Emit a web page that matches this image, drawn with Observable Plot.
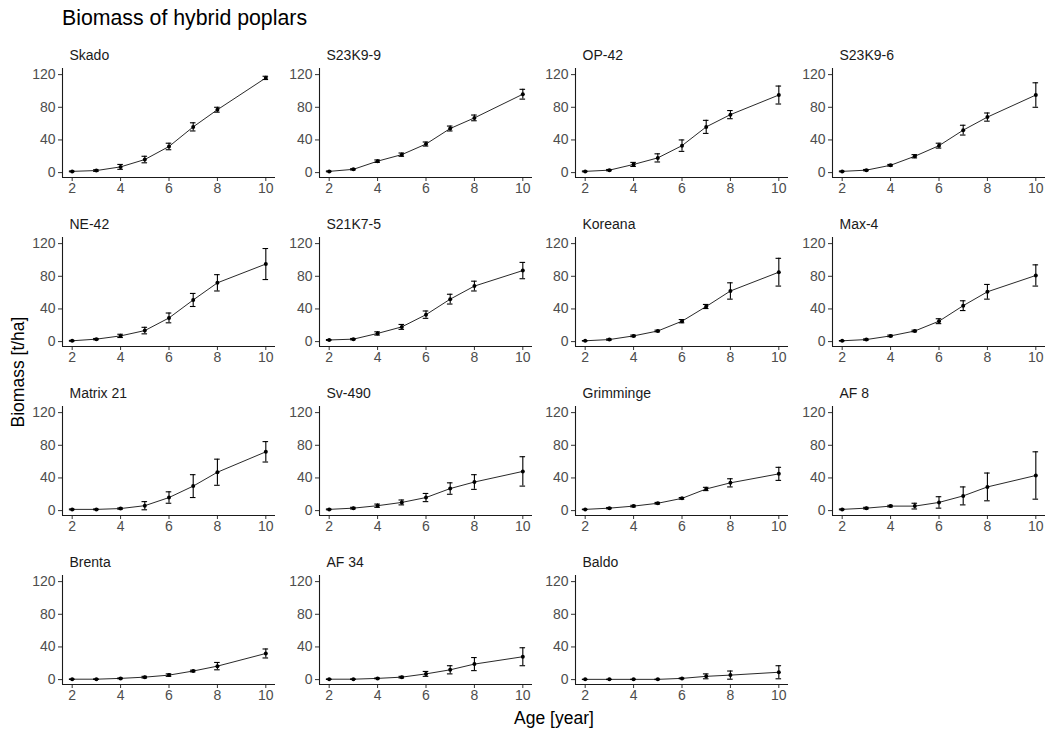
<!DOCTYPE html>
<html><head><meta charset="utf-8">
<script src="https://cdn.jsdelivr.net/npm/d3@7"></script>
<script src="https://cdn.jsdelivr.net/npm/@observablehq/plot@0.6"></script>
<style>
body{margin:0;background:#fff;overflow:hidden}
#chart{position:relative;width:1046px;height:731px;background:#fff;font-family:"Liberation Sans",Arial,sans-serif}
.panel{position:absolute}
g[aria-label$="tick label"]{fill:#4d4d4d}
#title{position:absolute;left:62px;top:6px;font-size:21.3px;color:#000;white-space:nowrap}
#ytitle{position:absolute;left:18px;top:372px;font-size:17.5px;color:#000;white-space:nowrap;transform:translate(-50%,-50%) rotate(-90deg)}
#xtitle{position:absolute;left:554px;top:718px;font-size:17.5px;color:#000;white-space:nowrap;transform:translate(-50%,-50%)}
</style></head>
<body>
<div id="chart">
  <div id="title">Biomass of hybrid poplars</div>
  <div id="ytitle">Biomass [t/ha]</div>
  <div id="xtitle">Age [year]</div>
</div>
<script>
const clones = ["Skado","S23K9-9","OP-42","S23K9-6","NE-42","S21K7-5","Koreana","Max-4","Matrix 21","Sv-490","Grimminge","AF 8","Brenta","AF 34","Baldo"];
const ages = [2,3,4,5,6,7,8,10];
const means = [
  [1.5,2.5,7,16,32,56,77,116],
  [1.5,4,14,22,35,54,67,96],
  [1.5,3,10,18,33,56,71,95],
  [1.5,3,9,20,33,52,68,95],
  [1,3,7,13.5,29,51,72,95],
  [2,3,10,18,33,52,68,87],
  [1,2.5,7,13,25,43,62,85],
  [1,2.5,7,13,25,44,61,81],
  [1.5,1.5,2.5,6,16,30,47,72],
  [1.5,3,6,10,16,27,35,48],
  [1.5,3,5.5,9,15,26.5,34,45],
  [1.5,3,5.5,5.5,10,18,29,43],
  [0.5,0.5,1.5,3,5.5,10.5,16.5,32],
  [0.5,0.5,1.5,3,7,12,19,28],
  [0.3,0.3,0.3,0.3,1.5,4,5.5,9]
];
const errors = [
  [0.5,1,3,4,4,5,3,2],
  [0.5,0.8,1.5,2,2.5,3,3.5,6],
  [0.5,0.8,2.5,5,7,8,5,11],
  [0.5,0.8,1,2,3,6,5,15],
  [0.5,0.8,2,4,6,8,10,19],
  [0.5,0.8,2,3,4.5,6,6,10],
  [0.3,0.8,1,1,2,2.5,10,17],
  [0.3,0.8,1,1,3,6,9,13],
  [0.5,0.5,0.8,5,7,14,16,12.5],
  [0.5,1,2,3,5,7,9,18],
  [0.3,0.8,1,1,1,2,5,8],
  [0.5,1,1,3.5,7,11,17,29],
  [0.3,0.3,0.5,1,1.5,1,4.5,5.5],
  [0.3,0.3,0.5,1,3,5,8,11],
  [0.2,0.2,0.2,0.3,0.5,3,5,8]
];
const xTicks = [2,4,6,8,10];
const yTicks = [0,40,80,120];
const xDomain = [1.6,10.4];
const yDomain = [-6,127.5];
const capHalf = 0.115;

const chart = document.getElementById("chart");
clones.forEach((name,i)=>{
  const c = i % 4, r = Math.floor(i / 4);
  const data = ages.map((a,j)=>({age:a, mean:means[i][j], lo:means[i][j]-errors[i][j], hi:means[i][j]+errors[i][j]}));
  const p = Plot.plot({
    width:252, height:169, marginLeft:36, marginRight:3, marginTop:28, marginBottom:32,
    x:{domain:xDomain}, y:{domain:yDomain},
    style:{fontFamily:'"Liberation Sans",Arial,sans-serif', fontSize:"14px", color:"#333", background:"transparent", overflow:"visible"},
    marks:[
      Plot.axisX(xTicks,{tickSize:4, tickPadding:2, label:null}),
      Plot.axisY(yTicks,{tickSize:4, tickPadding:3, label:null}),
      Plot.ruleX([xDomain[0]],{stroke:"#1a1a1a", strokeWidth:1.1}),
      Plot.ruleY([yDomain[0]],{stroke:"#1a1a1a", strokeWidth:1.1}),
      Plot.line(data,{x:"age", y:"mean", stroke:"#111", strokeWidth:0.9}),
      Plot.ruleX(data,{x:"age", y1:"lo", y2:"hi", stroke:"#000", strokeWidth:1.1}),
      Plot.ruleY(data,{y:"lo", x1:d=>d.age-capHalf, x2:d=>d.age+capHalf, stroke:"#000", strokeWidth:1.1}),
      Plot.ruleY(data,{y:"hi", x1:d=>d.age-capHalf, x2:d=>d.age+capHalf, stroke:"#000", strokeWidth:1.1}),
      Plot.dot(data,{x:"age", y:"mean", r:2, fill:"#000"}),
      Plot.text([name],{frameAnchor:"top-left", text:d=>d, dx:7, dy:-13, textAnchor:"start", lineAnchor:"middle", fill:"#1a1a1a", fontSize:14})
    ]
  });
  p.classList.add("panel");
  p.style.left = Math.round(26 + 256.7*c) + "px";
  p.style.top = (40 + 169*r) + "px";
  chart.appendChild(p);
});
</script>
</body></html>
